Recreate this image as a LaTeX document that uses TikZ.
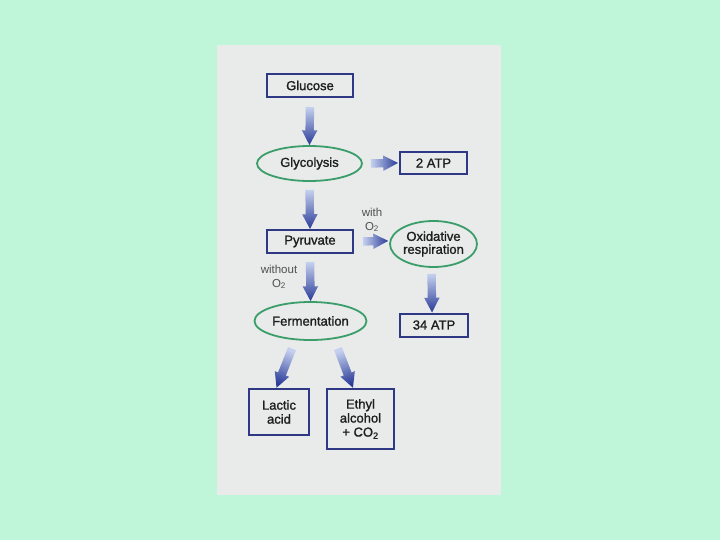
\documentclass[tikz,border=0pt]{standalone}
\usepackage{fontspec}
\setmainfont{Liberation Sans}
\newfontfamily\semib{Liberation Sans}[FakeBold=1.3]
\usetikzlibrary{shapes.geometric,shapes.arrows,calc}
\definecolor{bggreen}{HTML}{BFF5D9}
\definecolor{panel}{HTML}{E9EAEA}
\definecolor{boxblue}{HTML}{2E3884}
\definecolor{ellgreen}{HTML}{3A9E6A}
\definecolor{txt}{HTML}{1E1E1E}
\definecolor{lbl}{HTML}{505050}
\definecolor{arrowlight}{HTML}{C4D0EE}
\definecolor{arrowdark}{HTML}{2B3C98}
\tikzset{
  box/.style={draw=boxblue, line width=2pt, fill=panel, inner sep=0pt, align=center,
    text=txt, font=\semib\fontsize{13}{14}\selectfont},
  oval/.style={ellipse, draw=ellgreen, line width=1.8pt, fill=panel, inner sep=0pt, align=center,
    text=txt, font=\semib\fontsize{13}{14}\selectfont},
  note/.style={text=lbl, align=center, inner sep=0pt, font=\fontsize{11.5}{13.5}\selectfont},
  bigarrow/.style={single arrow, draw=none, inner xsep=0pt, inner ysep=4pt,
    single arrow head extend=3.5pt, single arrow head indent=0pt, single arrow tip angle=55,
    left color=arrowlight, right color=arrowdark}
}
\newcommand\fatarrow[3]{%
  \path let \p1=#2, \p2=#3, \n1={atan2(\y2-\y1,\x2-\x1)}, \n2={veclen(\x2-\x1,\y2-\y1)} in
    node[bigarrow, minimum height=\n2, rotate=\n1, shading angle={90+\n1}] (#1) at ($(\p1)!0.5!(\p2)$) {};}
\begin{document}
\begin{tikzpicture}[x=1pt,y=-1pt]
\fill[bggreen] (0,0) rectangle (720,540);
\useasboundingbox (0,0) rectangle (720,540);
\fill[panel] (217,45) rectangle (501,495);

\node[box, minimum width=86pt, minimum height=23pt] (glucose) at (310,85.5) {Glucose};
\node[oval, minimum width=105pt, minimum height=35pt] (glycolysis) at (309.5,163.5) {Glycolysis};
\node[box, minimum width=67pt, minimum height=22pt] (atp2) at (433.5,163) {2 ATP};
\node[box, minimum width=86pt, minimum height=23pt] (pyruvate) at (310,241.5) {Pyruvate};
\node[oval, minimum width=87pt, minimum height=46pt] (oxid) at (433.5,244) {Oxidative\\[-1pt]respiration};
\node[oval, minimum width=112pt, minimum height=38pt] (ferm) at (310.5,321) {Fermentation};
\node[box, minimum width=68pt, minimum height=23pt] (atp34) at (434,325) {34 ATP};
\node[box, minimum width=60pt, minimum height=46pt] (lactic) at (279,412) {Lactic\\acid};
\node[box, minimum width=67pt, minimum height=60pt] (ethyl) at (360.5,419) {Ethyl\\alcohol\\+ CO\textsubscript{2}};

\node[note] (with) at (372,220) {with\\O\textsubscript{2}};
\node[note] (without) at (279,277) {without\\O\textsubscript{2}};

\fatarrow{a1}{($(glucose.south)+(0,5)$)}{($(glycolysis.north)+(0,-4)$)}
\fatarrow{a2}{($(glycolysis.east)+(4,0)$)}{($(atp2.west)+(-5,0)$)}
\fatarrow{a3}{($(glycolysis.south)+(0,4)$)}{($(pyruvate.north)+(0,-4)$)}
\fatarrow{a4}{($(pyruvate.east)+(5,0)$)}{($(oxid.west)+(-5,-3)$)}
\fatarrow{a5}{($(pyruvate.south)+(0,4)$)}{($(ferm.north)+(0,-4)$)}
\fatarrow{a6}{($(oxid.south)+(-2,2)$)}{($(atp34.north)+(-2,-4)$)}
\fatarrow{a7}{($(ferm.south)+(-17,4)$)}{($(lactic.north)+(-1,-4)$)}
\fatarrow{a8}{($(ferm.south)+(26,4)$)}{($(ethyl.north)+(-9,-4)$)}
\end{tikzpicture}
\end{document}
